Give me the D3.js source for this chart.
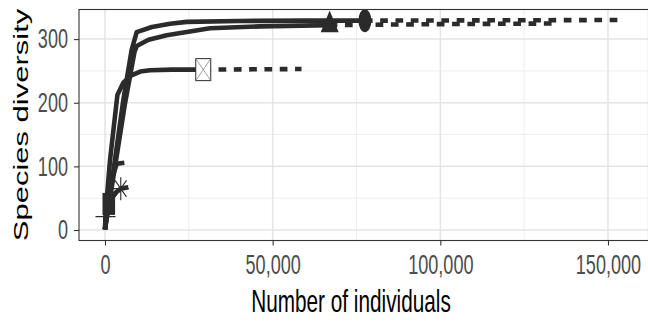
<!DOCTYPE html>
<html><head><meta charset="utf-8">
<script src="https://cdn.jsdelivr.net/npm/d3@7"></script>
<style>body{margin:0;background:#fff}svg{display:block}</style>
</head><body>
<svg id="c" width="648" height="324"></svg>
<script>
// ---- data ----
const assemblages = ["A1","A2","A3","A4","A5","A6","A7"];
const shapes      = ["circle","triangle","square","plus","boxx","asterisk","none"];
// rarefaction (solid) curves: [individuals, species]
const rareA1 = [[1,1],[2700,100],[5460,204],[7950,283],[9450,311],[14000,319],[19400,324],[24400,327],[40000,328.5],[60000,329],[77500,329]];
const rareA2 = [[1,1],[3000,100],[6000,200],[8800,280],[9450,289],[13000,299],[18400,306],[31300,317],[46200,320],[67000,322]];
const rareA3 = [[1,1],[300,18],[600,30],[1130,41]];
const rareA4 = [[1,1],[80,12],[150,21]];
const rareA5 = [[1,1],[500,47],[1500,110],[3700,212],[5500,232],[7900,243],[10500,249],[13400,251],[20000,252],[29300,252]];
const rareA6 = [[1,1],[500,25],[1500,45],[3000,58],[4700,65]];
const rareA7 = [[1,1],[1000,50],[2000,80],[3500,104]];
// extrapolation (dashed) curves
const extA1 = [[77500,329],[116000,329.5],[155000,330]];
const extA2 = [[67000,322],[100000,323.5],[134000,324.5]];
const extA3 = [[1130,41],[2260,52]];
const extA4 = [[150,21],[300,28]];
const extA5 = [[29300,252],[44000,252.5],[58600,253]];
const extA6 = [[4700,65],[8800,69]];
const extA7 = [[3500,104],[7500,107]];
// observed points
const obsN = [77500,67000,1130,150,29300,4700,3500];
const obsS = [329,322,41,21,252,65,104];
const xTicks = [0,50000,100000,150000];
const yTicks = [0,100,200,300];
const xTitle = "Number of individuals";
const yTitle = "Species diversity";

const rare = [rareA1,rareA2,rareA3,rareA4,rareA5,rareA6,rareA7];
const ext  = [extA1,extA2,extA3,extA4,extA5,extA6,extA7];

// ---- layout ----
const L=79, R=648.5, T=9.5, B=240.5;
const sx = 0.67;           // horizontal text squeeze
const ink = "#2b2b2b";
const FONT = "Liberation Sans, Arial, sans-serif";
const svg = d3.select("#c");
const x = d3.scaleLinear().domain([-7753,162079]).range([L,R]);
const y = d3.scaleLinear().domain([-16.5,346.5]).range([B,T]);

// grid
const g = svg.append("g");
const xMinor = [25000,75000,125000], yMinor=[50,150,250];
g.selectAll(".xm").data(xMinor).join("line").attr("x1",d=>x(d)).attr("x2",d=>x(d)).attr("y1",T).attr("y2",B).attr("stroke","#eeeeee").attr("stroke-width",1);
g.selectAll(".ym").data(yMinor).join("line").attr("y1",d=>y(d)).attr("y2",d=>y(d)).attr("x1",L).attr("x2",R).attr("stroke","#eeeeee").attr("stroke-width",1);
g.selectAll(".xM").data(xTicks).join("line").attr("x1",d=>x(d)).attr("x2",d=>x(d)).attr("y1",T).attr("y2",B).attr("stroke","#e4e4e4").attr("stroke-width",1.5);
g.selectAll(".yM").data(yTicks).join("line").attr("y1",d=>y(d)).attr("y2",d=>y(d)).attr("x1",L).attr("x2",R).attr("stroke","#e4e4e4").attr("stroke-width",1.5);

// curves
const line = d3.line().x(d=>x(d[0])).y(d=>y(d[1]));
const cg = svg.append("g").attr("fill","none").attr("stroke",ink).attr("stroke-linejoin","round").attr("stroke-width",4.6);
ext.forEach(e=>cg.append("path").attr("d",line(e)).attr("stroke-dasharray","7.7,7.6"));
rare.forEach(r=>cg.append("path").attr("d",line(r)));

// markers
const mg = svg.append("g");
obsN.forEach((n,i)=>{
  const cx=x(n), cy=y(obsS[i]), s=shapes[i];
  if(s==="circle") mg.append("ellipse").attr("cx",cx).attr("cy",cy).attr("rx",6.5).attr("ry",11.5).attr("fill",ink);
  else if(s==="triangle") mg.append("path").attr("d",`M${cx},${cy-14.5}L${cx+9},${cy+7.2}L${cx-9},${cy+7.2}Z`).attr("fill",ink);
  else if(s==="square") mg.append("rect").attr("x",cx-6.3).attr("y",cy-11).attr("width",12.6).attr("height",22).attr("fill",ink);
  else if(s==="plus"){
    mg.append("path").attr("d",`M${cx-10},${cy}H${cx+10}M${cx},${cy-11}V${cy+11}`).attr("stroke",ink).attr("stroke-width",1.2);
  } else if(s==="boxx"){
    mg.append("rect").attr("x",cx-7.5).attr("y",cy-11).attr("width",15).attr("height",22).attr("fill","#fff").attr("stroke",ink).attr("stroke-width",1);
    mg.append("path").attr("d",`M${cx-7.5},${cy-11}L${cx+7.5},${cy+11}M${cx+7.5},${cy-11}L${cx-7.5},${cy+11}`).attr("stroke","#888").attr("stroke-width",0.8);
  } else if(s==="asterisk"){
    mg.append("path").attr("d",`M${cx-8},${cy}H${cx+8}M${cx},${cy-11.5}V${cy+11.5}M${cx-5.7},${cy-8.2}L${cx+5.7},${cy+8.2}M${cx+5.7},${cy-8.2}L${cx-5.7},${cy+8.2}`).attr("stroke",ink).attr("stroke-width",1.1);
  }
});

// panel border
svg.append("rect").attr("x",L).attr("y",T).attr("width",R-L).attr("height",B-T).attr("fill","none").attr("stroke","#333").attr("stroke-width",1.1);

// axes
const fmt = d3.format(",");
const xa = svg.append("g").attr("transform",`translate(0,${B})`)
  .call(d3.axisBottom(x).tickValues(xTicks).tickFormat(fmt).tickSize(5).tickSizeOuter(0).tickPadding(4));
const ya = svg.append("g").attr("transform",`translate(${L},0)`)
  .call(d3.axisLeft(y).tickValues(yTicks).tickSize(5).tickSizeOuter(0).tickPadding(4));
[xa,ya].forEach(a=>{a.select(".domain").remove(); a.selectAll(".tick line").attr("stroke","#333").attr("stroke-width",1.1);
  a.selectAll("text").attr("fill","#4d4d4d").attr("font-family",FONT).attr("font-size",27);});
xa.selectAll("text").attr("transform",`scale(${sx},1)`).attr("y",34).attr("dy",null);
ya.selectAll("text").attr("transform",`scale(${sx},1)`).attr("x",-11/sx);

// titles
svg.append("text").attr("transform",`translate(351,312) scale(${sx},1)`).attr("text-anchor","middle")
  .attr("font-family",FONT).attr("font-size",31).attr("fill","#000").text(xTitle);
svg.append("text").attr("transform",`translate(28,${(T+B)/2}) scale(${sx},1) rotate(-90)`).attr("text-anchor","middle")
  .attr("font-family",FONT).attr("font-size",31).attr("fill","#000").text(yTitle);
</script>
</body></html>
